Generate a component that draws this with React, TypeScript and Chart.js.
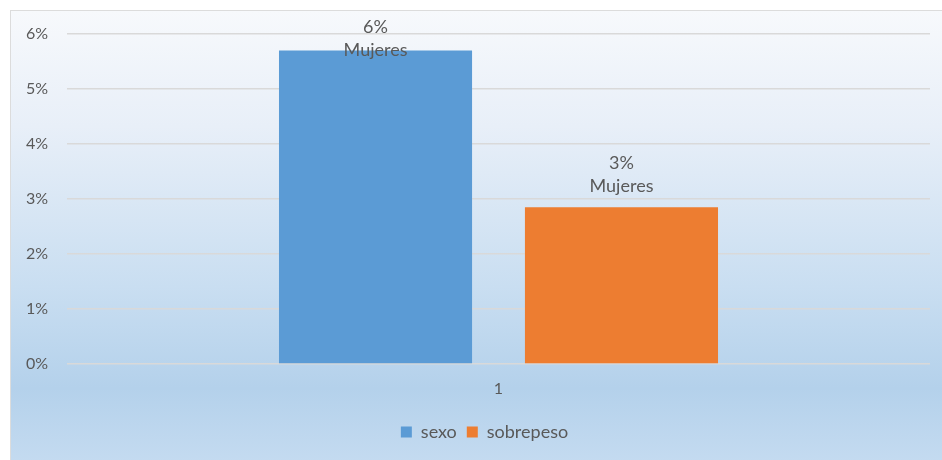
import React, { useEffect, useRef } from "react";
import { Chart, registerables } from "chart.js";

Chart.register(...registerables);

// Chart data
const categories = ["1"];
const seriesNames = ["sexo", "sobrepeso"];
const sexoValues = [0.057];
const sobrepesoValues = [0.0285];
const labelSubtitle = "Mujeres";
const yTicks = [0, 0.01, 0.02, 0.03, 0.04, 0.05, 0.06];

const FONT = "Lato, 'Open Sans', sans-serif";
const TEXT = "#595959";
const GRID = "#d9d9d9";

const pct = (v: number) => `${Math.round(v * 100)}%`;

// Two-line value label above each bar ("6%" / "Mujeres"), kept inside the plot top.
const barLabels = {
  id: "barLabels",
  afterDatasetsDraw(chart: any) {
    const { ctx, chartArea } = chart;
    ctx.save();
    ctx.font = `18px ${FONT}`;
    ctx.fillStyle = TEXT;
    ctx.textAlign = "center";
    ctx.textBaseline = "middle";
    chart.data.datasets.forEach((ds: any, di: number) => {
      const meta = chart.getDatasetMeta(di);
      meta.data.forEach((bar: any, i: number) => {
        const v = ds.data[i];
        const y1 = Math.max(bar.y - 44, chartArea.top - 7);
        ctx.fillText(pct(v), bar.x, y1);
        ctx.fillText(labelSubtitle, bar.x, y1 + 23);
      });
    });
    ctx.restore();
  },
};

// Nudge the legend row slightly left of the plot centre.
const legendShift = {
  id: "legendShift",
  afterLayout(chart: any) {
    const lg = chart.legend;
    if (lg) {
      lg.left -= 14;
      lg.right -= 14;
    }
  },
};

export default function App() {
  const ref = useRef<HTMLCanvasElement | null>(null);

  useEffect(() => {
    if (!ref.current) return;
    const chart = new Chart(ref.current, {
      type: "bar",
      data: {
        labels: categories,
        datasets: [
          {
            label: seriesNames[0],
            data: sexoValues,
            backgroundColor: "#5b9bd5",
            categoryPercentage: 0.57,
            barPercentage: 0.785,
          },
          {
            label: seriesNames[1],
            data: sobrepesoValues,
            backgroundColor: "#ed7d31",
            categoryPercentage: 0.57,
            barPercentage: 0.785,
          },
        ],
      },
      options: {
        animation: false,
        responsive: false,
        maintainAspectRatio: false,
        layout: { padding: { left: 0, right: 12, top: 23, bottom: 9 } },
        plugins: {
          legend: {
            position: "bottom",
            fullSize: false,
            labels: {
              boxWidth: 11,
              boxHeight: 11,
              padding: 10,
              color: TEXT,
              font: { family: FONT, size: 18 },
            },
          },
          tooltip: { enabled: false },
        },
        scales: {
          x: {
            grid: { display: false, drawTicks: false },
            border: { display: false },
            ticks: { color: TEXT, font: { family: FONT, size: 16 }, padding: 15 },
            afterFit: (s: any) => {
              s.height = 49;
              s.paddingLeft = 0;
              s.paddingRight = 0;
            },
          },
          y: {
            min: 0,
            max: 0.06,
            afterBuildTicks: (s: any) => {
              s.ticks = yTicks.map((v) => ({ value: v }));
            },
            grid: { color: GRID, lineWidth: 1.5, drawTicks: false },
            border: { display: false },
            ticks: {
              color: TEXT,
              font: { family: FONT, size: 16 },
              padding: 19,
              callback: (v: any) => pct(Number(v)),
            },
            afterFit: (s: any) => {
              s.width = 56;
              s.paddingTop = 0;
              s.paddingBottom = 0;
            },
          },
        },
      },
      plugins: [barLabels, legendShift],
    });
    return () => chart.destroy();
  }, []);

  return (
    <div
      style={{
        position: "fixed",
        left: 0,
        top: 0,
        width: 942,
        height: 460,
        background: "#ffffff",
        overflow: "hidden",
      }}
    >
      <div
        style={{
          position: "absolute",
          left: 10,
          top: 10,
          width: 940,
          height: 460,
          border: "1px solid #dcdcdc",
          background:
            "linear-gradient(to bottom, #f7f9fc 0%, #e8eff8 25%, #c9def1 60%, #b4d1eb 82%, #c6dcf1 100%)",
        }}
      >
        <canvas ref={ref} width={931} height={449} style={{ display: "block" }} />
      </div>
    </div>
  );
}
